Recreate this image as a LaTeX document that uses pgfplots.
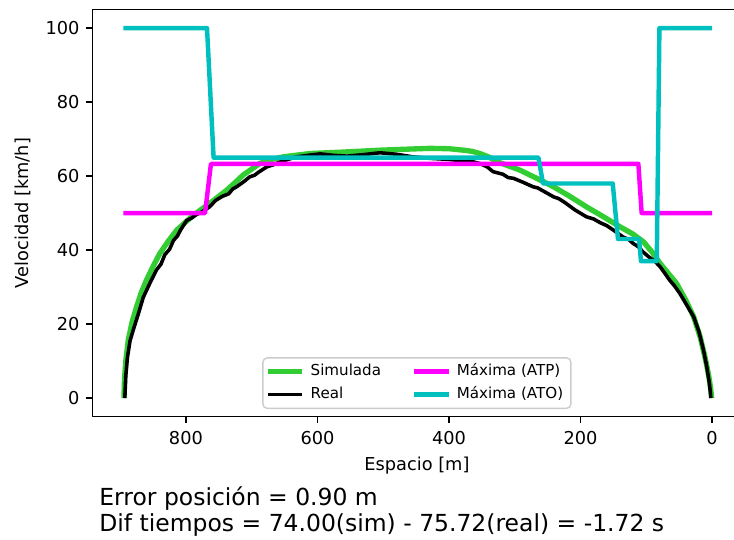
\documentclass[border=0pt]{standalone}
\usepackage{pgfplots}
\pgfplotsset{compat=1.18}
\usepackage{fontspec}
\setmainfont{DejaVu Sans}
\definecolor{simgreen}{HTML}{32CD32}
\definecolor{atoc}{rgb}{0,0.75,0.75}
\definecolor{atpm}{rgb}{1,0,1}
\begin{document}
\begin{tikzpicture}
\begin{axis}[
  scale only axis, width=365.2pt, height=228.9pt,
  x dir=reverse, xmin=-44.9, xmax=942.5, ymin=-5, ymax=105,
  xtick={0,200,400,600,800}, ytick={0,20,40,60,80,100},
  tick pos=left, tick align=outside, major tick length=3.5pt,
  every tick/.style={black, line width=0.8pt},
  axis line style={line width=0.8pt},
  /pgf/number format/assume math mode=true,
  tick label style={font=\fontsize{10}{12}\selectfont},
  xticklabel style={anchor=north, inner sep=0pt, yshift=-4.5pt},
  yticklabel style={anchor=east, inner sep=0pt, xshift=-3.5pt},
  xlabel={Espacio [m]}, ylabel={Velocidad [km/h]},
  label style={font=\fontsize{10}{12}\selectfont},
  xlabel style={at={(axis description cs:0.5,-0.1314)}, anchor=base},
  ylabel style={at={(axis description cs:-0.0983,0.5)}, anchor=base},
  legend columns=2,
  transpose legend,
  legend cell align=left,
  legend image code/.code={\draw[#1, line cap=butt] (0pt,0pt) -- (19.5pt,0pt);},
  legend style={
    at={(axis description cs:0.5,0)}, anchor=south, yshift=4.2pt,
    draw=black!20, line width=0.8pt, rounded corners=2.5pt, fill=white,
    font=\fontsize{8.5}{10}\selectfont,
    inner xsep=1.2pt, inner ysep=2pt, row sep=1.4pt,
    nodes={inner ysep=1.5pt, inner xsep=3.2pt, text height=6.5pt, text depth=2pt},
    /tikz/every even column/.append style={column sep=14.2pt},
  },
  line join=round,
]
\addplot[simgreen, line width=3pt] coordinates {
(894.3,0) (893.5,5) (891.5,10) (887.7,15.7) (882,20.5) (875,24.7) (868,28.5)
(860,31.9) (850,35.6) (840,39) (827,42.4) (814,45.4) (794,48.6) (779,50.7)
(764,52.6) (751,54.4) (738,56.2) (725,58.3) (713,60.3) (700,61.9) (688,63.4)
(670,64.5) (652,65.2) (630,65.7) (611,66.1) (560,66.5) (505,67) (460,67.3)
(429,67.5) (400,67.4) (378,67) (365,66.7) (353,66.1) (340,65.2) (327,63.9)
(310,62.8) (292,61.6) (262,59) (241,57.1) (216,54.5) (191,51.7) (165,49)
(140,46.3) (120,44.3) (104,42.2) (90,39.2) (79,36.4) (66,33.6) (54,31)
(40,26.5) (28,22) (18,16.5) (10,10.5) (5,6) (2,2.5) (0.5,0)
};
\addlegendentry{Simulada}
\addplot[black, line width=2pt] coordinates {
(893,0) (891.5,6) (889,11) (885,15.5) (880,18.5) (872,23) (865,27.2)
(855,31) (845,34.6) (838,36.2) (832,38.8) (825,40.2) (819,42.6) (813,43.8)
(808,45.5) (799,48) (792,48.6) (785,49.5) (775,50.4) (764,51.7) (755,53.4)
(745,54.5) (735,55.2) (729,56.5) (723,57.1) (712,58.5) (703,59.8) (696,60.2)
(690,61) (677,62.5) (668,63) (660,63.6) (645,64.5) (632,65.2) (615,65.6)
(596,66) (585,65.8) (575,65.6) (555,65.4) (530,65.8) (505,66.3) (480,65.9)
(455,65.2) (429,64.8) (400,64.5) (379,64.1) (362,63.8) (353,63.4) (342,62.5)
(333,61.2) (318,60.5) (310,59.6) (302,59.4) (287,58.3) (272,57.1) (265,56.8)
(257,56) (241,54.4) (233,53.9) (225,53) (208,50.8) (191,49) (180,48.4)
(170,47.4) (160,46.6) (150,45.4) (135,43.5) (127,42.9) (120,41.8) (112,40.9)
(105,39.5) (95,38) (87,37) (79,35.5) (72,33.8) (65,32) (57,30.3) (49,28.3)
(38,25) (28,22) (20,18) (13,13) (8,8.5) (4,4) (2.5,1.5) (1.8,0)
};
\addlegendentry{Real}
\addplot[atpm, line width=2.5pt] coordinates {
(895,50) (771,50) (762,63.3) (112,63.3) (107,50) (0,50)
};
\addlegendentry{Máxima (ATP)}
\addplot[atoc, line width=2.5pt] coordinates {
(895,100) (768,100) (758,65) (264,65) (257,58) (151,58) (143,43)
(111,43) (108,37) (84,37) (80,100) (0,100)
};
\addlegendentry{Máxima (ATO)}
\end{axis}
\node[anchor=base west, inner sep=0pt, font=\fontsize{13.2}{15.8}\selectfont] at (3.8pt,-50.3pt) {Error posición = 0.90 m};
\node[anchor=base west, inner sep=0pt, font=\fontsize{13.2}{15.8}\selectfont] at (3.8pt,-64.4pt) {Dif tiempos = 74.00(sim) - 75.72(real) = -1.72 s};
\pgfresetboundingbox
\path[use as bounding box] (-51.9pt,-68.9pt) rectangle (360.95pt,234.3pt);
\end{tikzpicture}
\end{document}
